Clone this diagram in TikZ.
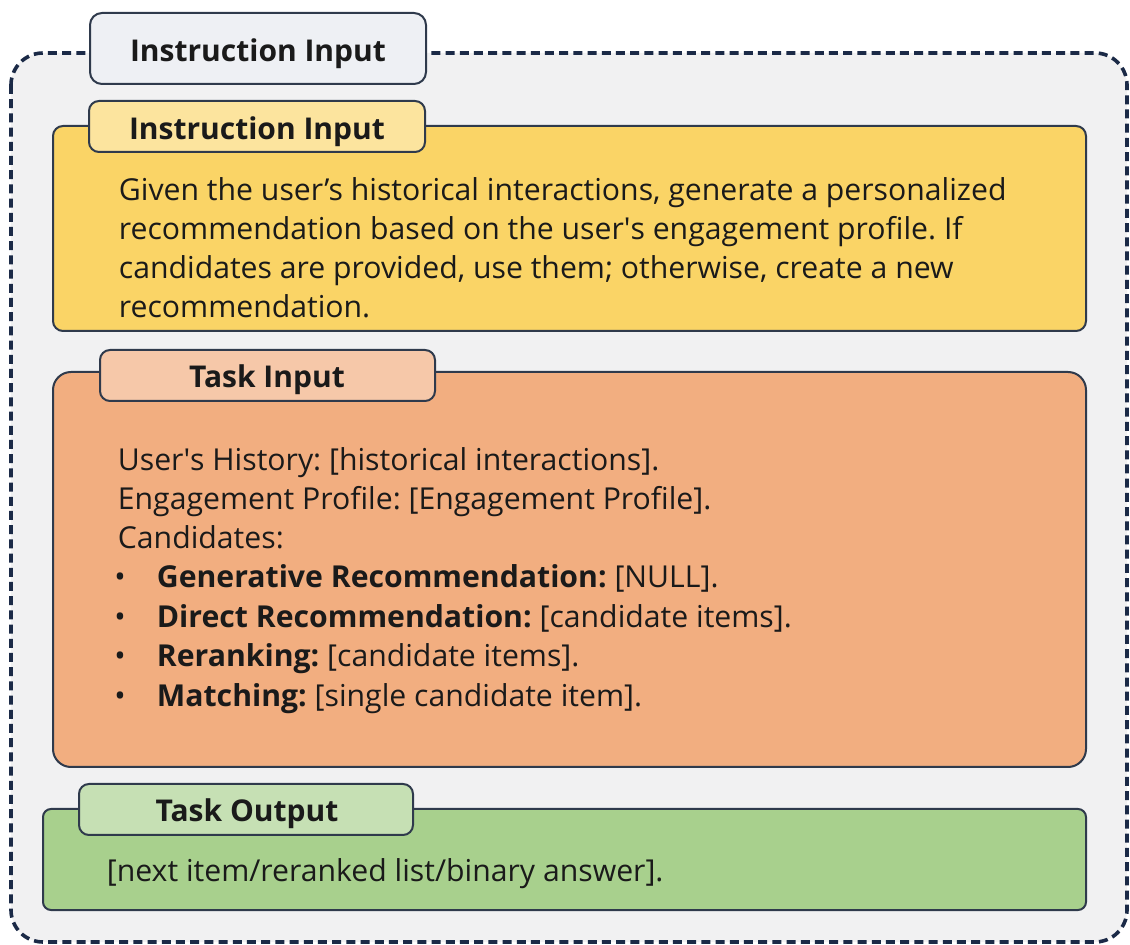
\documentclass[tikz,border=0pt]{standalone}
\usepackage{fontspec}
\setmainfont{Open Sans}
\frenchspacing

\definecolor{outerGray}{HTML}{F1F1F2}
\definecolor{dashNavy}{HTML}{1B2A47}
\definecolor{edgeGray}{HTML}{2F3A4C}
\definecolor{headGray}{HTML}{EEF0F4}
\definecolor{instrYellow}{HTML}{FAD466}
\definecolor{instrTab}{HTML}{FCE49E}
\definecolor{taskOrange}{HTML}{F2AE80}
\definecolor{taskTab}{HTML}{F6C8A9}
\definecolor{outGreen}{HTML}{A8D08D}
\definecolor{outTab}{HTML}{C6E0B4}
\definecolor{inkDark}{HTML}{1A1A1A}

\tikzset{
  panel/.style={draw=edgeGray, line width=1pt},
  tabbox/.style={draw=edgeGray, line width=1pt, rounded corners=5pt},
  title/.style={inner sep=0.75pt, text=inkDark, font=\fontsize{15}{17}\selectfont\bfseries},
  body/.style={inner sep=0.75pt, text=inkDark, font=\fontsize{15.1}{19.5}\selectfont}
}

\begin{document}
\begin{tikzpicture}[x=0.5pt,y=0.5pt,yscale=-1,xscale=1]
\useasboundingbox (0,0) rectangle (1130,945);

%Shape: Rectangle [outer dashed frame]
\draw [color=dashNavy, line width=1.8pt, dash pattern=on 4.5pt off 2.6pt, fill=outerGray, rounded corners=16pt] (11,53) rectangle (1127,942);
%Shape: Rectangle [outer head]
\draw [tabbox, fill=headGray, rounded corners=6pt] (90,13) rectangle (426,84);

%Shape: Rectangle [instruction panel]
\draw [panel, fill=instrYellow, rounded corners=5pt] (53,126) rectangle (1086,331);
%Shape: Rectangle [instruction tab]
\draw [tabbox, fill=instrTab] (89,101) rectangle (425,152);

%Shape: Rectangle [task input panel]
\draw [panel, fill=taskOrange, rounded corners=9pt] (53,372) rectangle (1086,767);
%Shape: Rectangle [task input tab]
\draw [tabbox, fill=taskTab] (100,350) rectangle (435,401);

%Shape: Rectangle [task output panel]
\draw [panel, fill=outGreen, rounded corners=4pt] (43,809) rectangle (1086,910);
%Shape: Rectangle [task output tab]
\draw [tabbox, fill=outTab] (79,784) rectangle (413,835);

% Text Node
\draw (258,62) node [anchor=base, title] (headTitle) {Instruction Input};
% Text Node
\draw (257,140) node [anchor=base, title] (instrTitle) {Instruction Input};
% Text Node
\draw (267,388) node [anchor=base, title] (taskTitle) {Task Input};
% Text Node
\draw (247,822) node [anchor=base, title] (outTitle) {Task Output};

% Text Node
\draw (117,201) node [anchor=base west, body] (instrLineA) {Given the user’s historical interactions, generate a personalized};
% Text Node
\draw (117,240) node [anchor=base west, body] (instrLineB) {recommendation based on the user\textquotesingle s engagement profile. If};
% Text Node
\draw (117,279) node [anchor=base west, body] (instrLineC) {candidates are provided, use them; otherwise, create a new};
% Text Node
\draw (117,318) node [anchor=base west, body] (instrLineD) {recommendation.};

% Text Node
\draw (116,471) node [anchor=base west, body] (histLine) {User\textquotesingle s History: [historical interactions].};
% Text Node
\draw (116,510) node [anchor=base west, body] (profLine) {Engagement Profile: [Engagement Profile].};
% Text Node
\draw (116,549) node [anchor=base west, body] (candLine) {Candidates:};

% Text Node
\draw (120,588) node [anchor=base, body] (dotA) {\textbullet};
\draw (155,588) node [anchor=base west, body] (genLine) {\textbf{Generative Recommendation:} [NULL].};
% Text Node
\draw (120,628) node [anchor=base, body] (dotB) {\textbullet};
\draw (155,628) node [anchor=base west, body] (dirLine) {\textbf{Direct Recommendation:} [candidate items].};
% Text Node
\draw (120,667) node [anchor=base, body] (dotC) {\textbullet};
\draw (155,667) node [anchor=base west, body] (rerankLine) {\textbf{Reranking:} [candidate items].};
% Text Node
\draw (120,707) node [anchor=base, body] (dotD) {\textbullet};
\draw (155,707) node [anchor=base west, body] (matchLine) {\textbf{Matching:} [single candidate item].};

% Text Node
\draw (105,882) node [anchor=base west, body] (outLine) {[next item/reranked list/binary answer].};

\end{tikzpicture}
\end{document}
